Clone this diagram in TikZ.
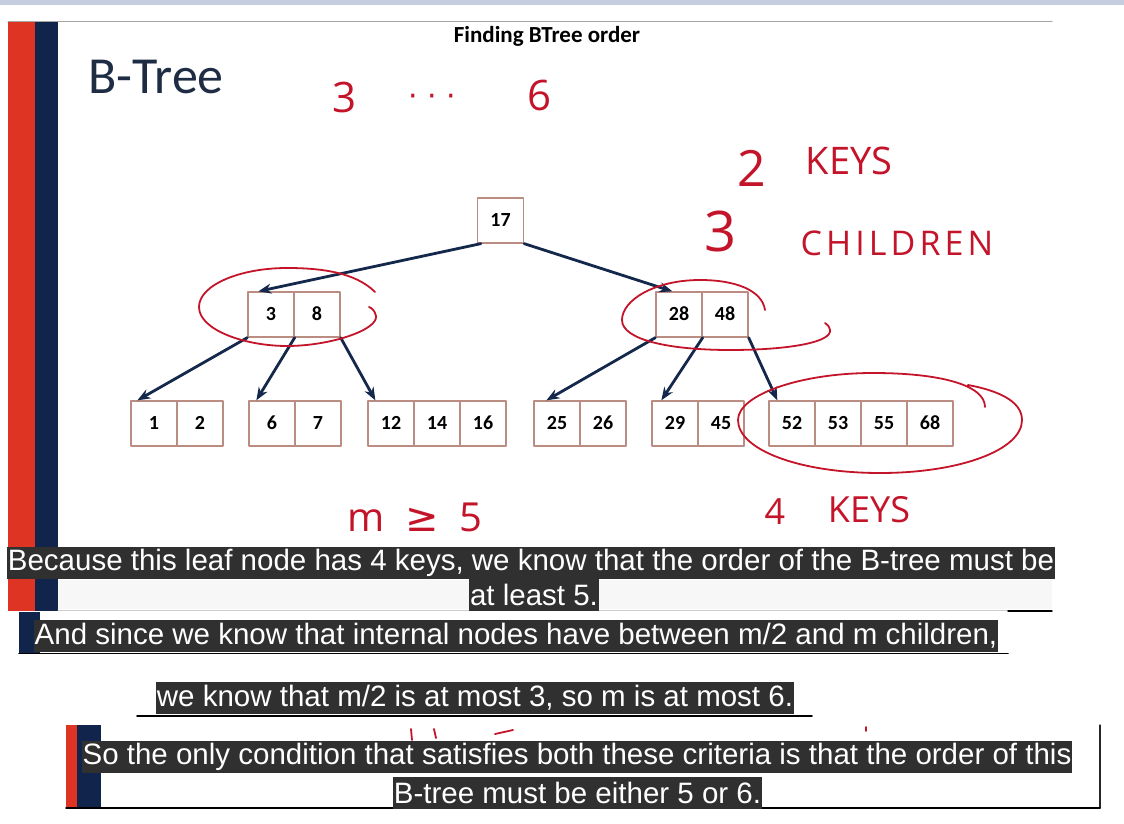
\documentclass[tikz,border=0pt]{standalone}
\usepackage{fontspec}
\setmainfont{Liberation Sans}
\newfontfamily\slidefont[Numbers=Lining]{Carlito}
\newfontfamily\handfont{Open Sans}
\newfontfamily\symfont{DejaVu Sans}
\usetikzlibrary{arrows.meta}
\definecolor{topbar}{RGB}{197,206,224}
\definecolor{barred}{RGB}{222,52,36}
\definecolor{barnavy}{RGB}{16,36,76}
\definecolor{titlenavy}{RGB}{30,44,68}
\definecolor{keyline}{RGB}{186,140,130}
\definecolor{linknavy}{RGB}{20,40,76}
\definecolor{inkred}{RGB}{196,20,42}
\definecolor{capbg}{RGB}{48,48,48}

\begin{document}
\begin{tikzpicture}[x=1pt,y=-1pt,>={Stealth[length=13pt,width=10pt]},line cap=round,line join=round,
  keybox/.style={draw=keyline,line width=1.3pt,minimum width=46pt,minimum height=45pt,inner sep=0pt,text height=12pt,text depth=0pt,font=\slidefont\bfseries\fontsize{20}{22}\selectfont},
  treelink/.style={->,draw=linknavy,line width=2.8pt},
  redink/.style={draw=inkred,line width=1.8pt},
  handtext/.style={text=inkred,inner sep=0pt,font=\handfont\fontsize{#1}{#1}\selectfont},
  captionbox/.style={fill=capbg,text=white,inner xsep=1pt,inner ysep=0pt,minimum height=32pt,font=\fontsize{29.5}{32}\selectfont}]
\useasboundingbox (0,0) rectangle (1124,824);
\fill[white] (0,0) rectangle (1124,824);
\fill[topbar] (0,0) rectangle (1124,5);
\draw[gray!70,line width=1pt] (8,22) -- (1052,22);
\fill[barred] (8,22) rectangle (35,611);
\fill[barnavy] (35,22) rectangle (58,611);
\fill[black!3] (58,580) rectangle (1052,609);
\draw[gray!40,line width=1pt] (58,610) -- (1008,610);
\draw[black,line width=1.4pt] (1008,611) -- (1052,611);
\fill[barnavy] (19,612) rectangle (40,653);
\draw[black,line width=1.6pt] (19,653.5) -- (1008,653.5);
\draw[black,line width=1.6pt] (137,716) -- (812,716);
\fill[barred] (66,725) rectangle (77,808);
\fill[barnavy] (77,725) rectangle (101,808);
\draw[black!85,line width=1.2pt] (1100,725) -- (1100,808);
\draw[black,line width=1.8pt] (66,808) -- (1100,808);

\node[font=\slidefont\bfseries\fontsize{23}{26}\selectfont] (title) at (547,36) {Finding BTree order};
\node[text=titlenavy,font=\slidefont\fontsize{52}{56}\selectfont] (slidetitle) at (156,77) {B-Tree};

\node[keybox] (k17) at (500.5,220.5) {17};
\node[keybox] (k3) at (271,314.5) {3};
\node[keybox] (k8) at (317,314.5) {8};
\node[keybox] (k28) at (679,314.5) {28};
\node[keybox] (k48) at (725,314.5) {48};
\node[keybox] (k1) at (154,423.5) {1};
\node[keybox] (k2) at (200,423.5) {2};
\node[keybox] (k6) at (272,423.5) {6};
\node[keybox] (k7) at (318,423.5) {7};
\node[keybox] (k12) at (391,423.5) {12};
\node[keybox] (k14) at (437,423.5) {14};
\node[keybox] (k16) at (483,423.5) {16};
\node[keybox] (k25) at (557,423.5) {25};
\node[keybox] (k26) at (603,423.5) {26};
\node[keybox] (k29) at (675,423.5) {29};
\node[keybox] (k45) at (721,423.5) {45};
\node[keybox] (k52) at (792,423.5) {52};
\node[keybox] (k53) at (838,423.5) {53};
\node[keybox] (k55) at (884,423.5) {55};
\node[keybox] (k68) at (930,423.5) {68};

\draw[treelink] ([xshift=4pt]k17.south west) -- ([xshift=11pt]k3.north west);
\draw[treelink] (k17.south east) -- ([xshift=17pt]k28.north west);
\draw[treelink] (k3.south west) -- ([xshift=7pt]k1.north west);
\draw[treelink] (k3.south east) -- ([xshift=8pt]k6.north west);
\draw[treelink] (k8.south east) -- ([xshift=8pt]k12.north west);
\draw[treelink] (k28.south west) -- ([xshift=13pt]k25.north west);
\draw[treelink] (k28.south east) -- ([xshift=10pt]k29.north west);
\draw[treelink] (k48.south east) -- ([xshift=9pt]k52.north west);

\draw[redink] (375,292) .. controls (355,272) and (320,268) .. (287,268) .. controls (240,268) and (199,285) .. (199,307) .. controls (199,330) and (245,346) .. (287,346) .. controls (330,346) and (378,330) .. (376,316) .. controls (375,311) and (372,308) .. (369,307);
\draw[redink] (765,310) .. controls (762,290) and (735,280) .. (700,280) .. controls (655,280) and (622,300) .. (622,320) .. controls (622,340) and (670,350) .. (730,350) .. controls (790,350) and (832,342) .. (830,330) .. controls (829,326) and (827,324) .. (825,323);
\draw[redink] (985,407) .. controls (985,385) and (940,373) .. (873,373) .. controls (800,373) and (738,395) .. (738,420) .. controls (738,450) and (800,473) .. (880,473) .. controls (960,473) and (1022,450) .. (1022,420) .. controls (1022,400) and (995,390) .. (968,385);
\draw[redink] (411,729) -- (412,740);
\draw[redink] (434,729) -- (436,738);
\draw[redink] (495,734) -- (513,730);
\draw[redink] (866,727) -- (866,731);

\node[handtext=42] (lowtxt) at (345,97) {3};
\node[handtext=30] (dotstxt) at (432,100) {\symfont· · ·};
\node[handtext=42] (hightxt) at (539,95) {6};
\node[handtext=50] (twotxt) at (752,168) {2};
\node[handtext=38] (keystxt) at (849,161) {KEYS};
\node[handtext=56] (threetxt) at (721,231) {3};
\node[handtext=34] (childtxt) at (897,243) {\addfontfeature{LetterSpace=12}CHILDREN};
\node[handtext=40] (mtxt) at (415,517) {m~~{\symfont≥}~~5};
\node[handtext=36] (fourtxt) at (775,512) {4};
\node[handtext=36] (fkeystxt) at (869,510) {KEYS};

\node[captionbox] (cap1) at (531,562.5) {Because this leaf node has 4 keys, we know that the order of the B-tree must be};
\node[captionbox] (cap2) at (534,595) {at least 5.};
\node[captionbox] (cap3) at (516,636) {And since we know that internal nodes have between m/2 and m children,};
\node[captionbox] (cap4) at (475,698) {we know that m/2 is at most 3, so m is at most 6.};
\node[captionbox] (cap5) at (577,757) {So the only condition that satisfies both these criteria is that the order of this};
\node[captionbox] (cap6) at (577.5,792.5) {B-tree must be either 5 or 6.};
\end{tikzpicture}
\end{document}
